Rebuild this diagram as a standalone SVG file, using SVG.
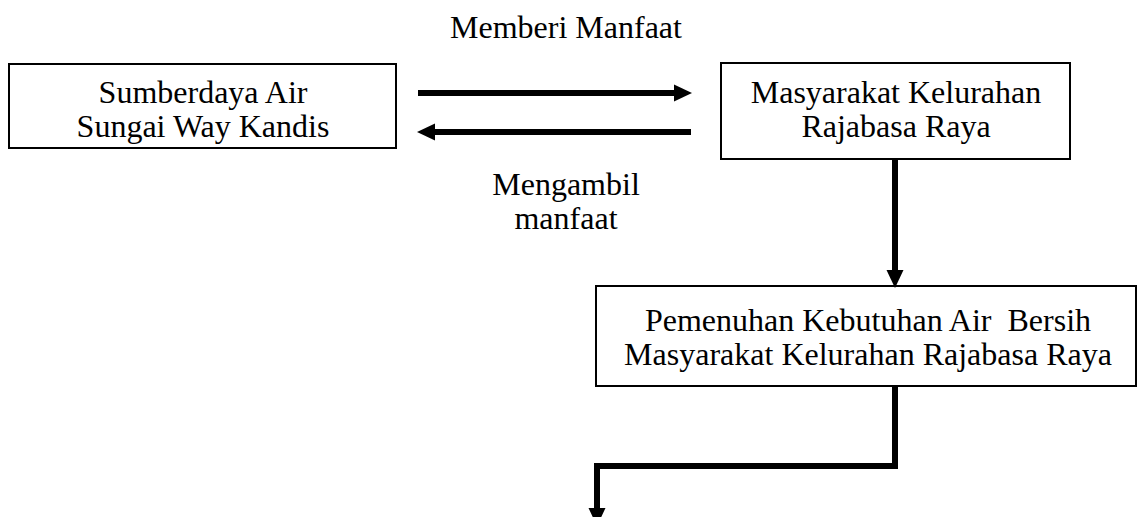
<svg xmlns="http://www.w3.org/2000/svg" width="1141" height="517" viewBox="0 0 1141 517">
<style>
.box{fill:#fff;stroke:#000;stroke-width:2}
.t{font-family:"Liberation Serif","Times New Roman",serif;font-size:32px;fill:#000;text-anchor:middle}
.c{fill:none;stroke:#000;stroke-width:6}
</style>
<defs>
<marker id="ah" markerUnits="userSpaceOnUse" markerWidth="18" markerHeight="18" refX="0" refY="8.5" orient="auto" overflow="visible">
<path d="M0,0 L18,8.5 L0,17 z" fill="#000"/>
</marker>
</defs>
<rect width="1141" height="517" fill="#fff"/>
<g id="n1">
<rect class="box" x="9" y="64" width="387" height="84"/>
<text class="t" x="203" y="103">Sumberdaya Air</text>
<text class="t" x="203" y="137">Sungai Way Kandis</text>
</g>
<g id="n2">
<rect class="box" x="721" y="63" width="349" height="96"/>
<text class="t" x="896" y="103">Masyarakat Kelurahan</text>
<text class="t" x="896" y="137">Rajabasa Raya</text>
</g>
<g id="n3">
<rect class="box" x="596" y="286" width="540" height="100"/>
<text class="t" x="868" y="331" xml:space="preserve">Pemenuhan Kebutuhan Air  Bersih</text>
<text class="t" x="868" y="365">Masyarakat Kelurahan Rajabasa Raya</text>
</g>
<g id="labels">
<text class="t" x="566" y="38">Memberi Manfaat</text>
<text class="t" x="566" y="195">Mengambil</text>
<text class="t" x="566" y="229">manfaat</text>
</g>
<g id="connectors">
<path class="c" d="M418,93 H674" marker-end="url(#ah)"/>
<path class="c" d="M691,132 H435" marker-end="url(#ah)"/>
<path class="c" d="M895,159 V270" marker-end="url(#ah)"/>
<path class="c" d="M895,386 V466 H597 V508" stroke-linejoin="miter" marker-end="url(#ah)"/>
</g>
</svg>
